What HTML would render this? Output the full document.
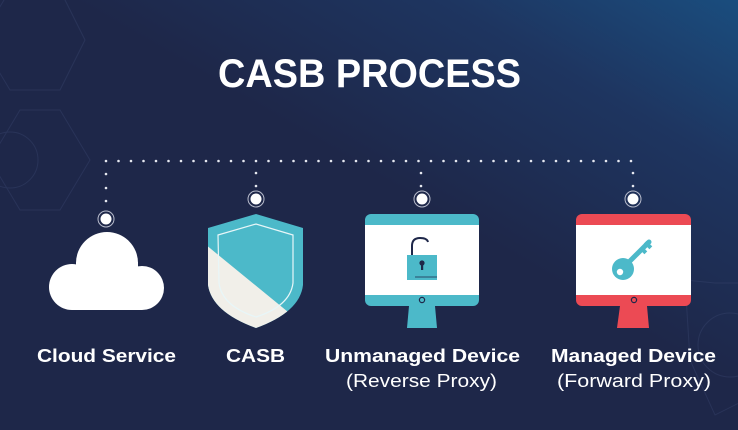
<!DOCTYPE html>
<html><head><meta charset="utf-8"><style>html,body{margin:0;padding:0;background:#1e2749}svg{display:block}</style></head>
<body>
<svg width="738" height="430" viewBox="0 0 738 430" xmlns="http://www.w3.org/2000/svg">
<defs>
<linearGradient id="bg" x1="0" y1="1" x2="1" y2="0">
<stop offset="0" stop-color="#1e2749"/>
<stop offset="0.55" stop-color="#1e2749"/>
<stop offset="0.8" stop-color="#1e3560"/>
<stop offset="1" stop-color="#1a4d7e"/>
</linearGradient>
</defs>
<rect width="738" height="430" fill="url(#bg)"/>
<g fill="none" stroke="#3a4770" stroke-width="1" opacity="0.4">
<polygon points="-10,160 20,110 60,110 90,160 60,210 20,210"/>
<circle cx="10" cy="160" r="28"/>
<polygon points="-20,40 10,-10 60,-10 85,40 60,90 10,90"/>
<polygon points="685,280 715,283 745,283 745,400 715,415 690,360"/>
<circle cx="730" cy="345" r="32"/>
</g>
<text x="369.5" y="87" text-anchor="middle" font-family="Liberation Sans, sans-serif" font-weight="bold" font-size="40" fill="#fff" textLength="303" lengthAdjust="spacingAndGlyphs">CASB PROCESS</text>
<g fill="#e6e8f0">
<line x1="106" y1="161" x2="632" y2="161" stroke="#e6e8f0" stroke-width="2.6" stroke-linecap="round" stroke-dasharray="0 12.5"/>
<circle cx="106" cy="174" r="1.3"/><circle cx="106" cy="188" r="1.3"/><circle cx="106" cy="201" r="1.3"/>
<circle cx="256" cy="173" r="1.3"/><circle cx="256" cy="186" r="1.3"/>
<circle cx="421" cy="173" r="1.3"/><circle cx="421" cy="186" r="1.3"/>
<circle cx="633" cy="173" r="1.3"/><circle cx="633" cy="186" r="1.3"/>
</g>
<g stroke="#b8bccc" stroke-width="1" fill="#fff">
<circle cx="106" cy="219" r="8" fill="none"/><circle cx="106" cy="219" r="5.5" stroke="none"/>
<circle cx="256" cy="199" r="8" fill="none"/><circle cx="256" cy="199" r="5.5" stroke="none"/>
<circle cx="422" cy="199" r="8" fill="none"/><circle cx="422" cy="199" r="5.5" stroke="none"/>
<circle cx="633" cy="199" r="8" fill="none"/><circle cx="633" cy="199" r="5.5" stroke="none"/>
</g>
<!-- cloud -->
<g fill="#fff">
<circle cx="72" cy="287" r="23"/>
<circle cx="107" cy="263" r="31"/>
<circle cx="142" cy="288" r="22"/>
<rect x="72" y="270" width="70" height="40"/>
<rect x="76" y="262" width="62" height="30"/>
</g>
<!-- shield -->
<defs><clipPath id="sh"><path d="M208,228 L256,214 L303,228 L303,285 Q300,312 256,328 Q212,312 208,285 Z"/></clipPath></defs>
<g clip-path="url(#sh)">
<rect x="200" y="210" width="110" height="125" fill="#4cb9c9"/>
<polygon points="200,240 310,330 200,340" fill="#f1efe9"/>
</g>
<path d="M218,235 L256,224 L293,235 L293,283 Q290,306 256,317 Q222,306 219,283 Z" fill="none" stroke="#e8f6f8" stroke-width="1.2"/>
<!-- unmanaged monitor -->
<rect x="365" y="214" width="114" height="92" rx="6" fill="#4cb9c9"/>
<rect x="365" y="225" width="114" height="70" fill="#fff"/>
<circle cx="422" cy="300" r="2.6" fill="none" stroke="#1e2749" stroke-width="1.2"/>
<polygon points="409,306 435,306 437,328 407,328" fill="#4cb9c9"/>
<path d="M412,255 V246 Q412,238 420,238 Q427,238 428,242" fill="none" stroke="#1e2749" stroke-width="2"/>
<rect x="407" y="255" width="30" height="25" fill="#4cb9c9"/>
<line x1="415" y1="277" x2="437" y2="277" stroke="#1e2749" stroke-width="0.8"/>
<circle cx="422" cy="263" r="2.6" fill="#1e2749"/><rect x="421" y="264" width="2.2" height="6" fill="#1e2749"/>
<!-- managed monitor -->
<rect x="576" y="214" width="115" height="92" rx="6" fill="#ec4a54"/>
<rect x="576" y="225" width="115" height="70" fill="#fff"/>
<circle cx="634" cy="300" r="2.6" fill="none" stroke="#1e2749" stroke-width="1.2"/>
<polygon points="620,306 647,306 649,328 617,328" fill="#ec4a54"/>
<g fill="#4cb9c9">
<circle cx="623" cy="269" r="11"/>
<line x1="628" y1="263" x2="649" y2="242" stroke="#4cb9c9" stroke-width="5" stroke-linecap="round"/>
<rect x="644" y="243" width="8" height="4" transform="rotate(45 648 245)"/>
<rect x="640" y="248" width="7" height="4" transform="rotate(45 643 250)"/>
</g>
<circle cx="620" cy="272" r="3.2" fill="#fff"/>
<g font-family="Liberation Sans, sans-serif" fill="#fff" font-size="18">
<text x="37" y="362" font-weight="bold" textLength="139" lengthAdjust="spacingAndGlyphs">Cloud Service</text>
<text x="226" y="362" font-weight="bold" textLength="59" lengthAdjust="spacingAndGlyphs">CASB</text>
<text x="325" y="362" font-weight="bold" textLength="195" lengthAdjust="spacingAndGlyphs">Unmanaged Device</text>
<text x="551" y="362" font-weight="bold" textLength="165" lengthAdjust="spacingAndGlyphs">Managed Device</text>
<text x="346" y="387" textLength="151" lengthAdjust="spacingAndGlyphs">(Reverse Proxy)</text>
<text x="557" y="387" textLength="154" lengthAdjust="spacingAndGlyphs">(Forward Proxy)</text>
</g>
</svg>
</body></html>
